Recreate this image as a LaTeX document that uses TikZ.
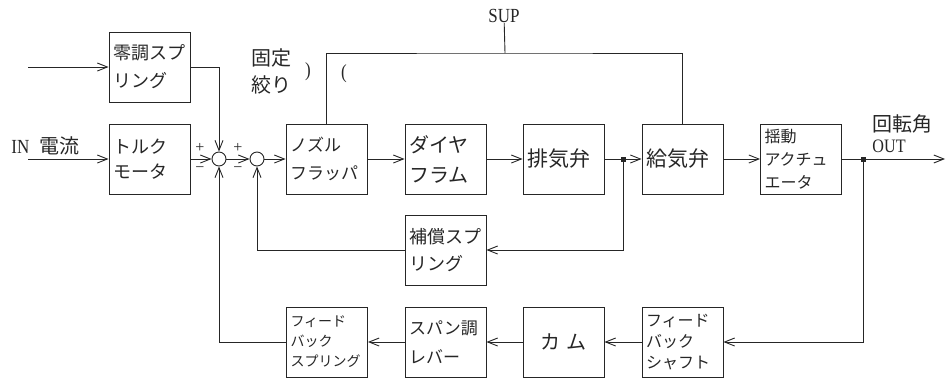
\documentclass[tikz,border=0pt]{standalone}
\usepackage{fontspec}
\setmainfont{Liberation Serif}
\newfontfamily\jp{Noto Sans CJK JP}
\newfontfamily\lat[FakeStretch=0.85]{Liberation Serif}
\usetikzlibrary{arrows.meta}
\begin{document}
\begin{tikzpicture}[x=1pt,y=-1pt,
  line width=0.9pt, color=black!85,
  >={Straight Barb[length=10pt,width=8pt]},
  box/.style 2 args={draw, rectangle, minimum width=81pt, minimum height=70pt,
    inner xsep=4pt, inner ysep=0pt, align=left, text width=73pt,
    font=\jp\fontsize{#1}{#2}\selectfont},
  sum/.style={draw, circle, minimum size=14pt, inner sep=0pt},
  dot/.style={fill, rectangle, minimum size=5pt, inner sep=0pt},
  lbl/.style={inner sep=0pt},
]
\useasboundingbox (0,0) rectangle (947,378);

% blocks
\node[box={18}{28}] (zr) at (149.5,67) {零調スプ\\リング};
\node[box={18}{25}] (tm) at (149.5,159) {トルク\\モータ};
\node[sum] (c1) at (219,159) {};
\node[sum] (c2) at (257,159) {};
\node[box={17}{28}] (nf) at (326.5,159) {ノズル\\フラッパ};
\node[box={20}{30}] (dia) at (445.5,159) {ダイヤ\\フラム};
\node[box={21}{28}] (ex) at (563.5,159) {排気弁};
\node[box={21}{28}] (sv) at (682.5,159) {給気弁};
\node[box={16}{23}] (act) at (801,159) {揺動\\アクチュ\\エータ};
\node[box={18}{27}] (cs) at (445.5,250) {補償スプ\\リング};
\node[box={14}{20}] (fbs) at (327,342) {フィード\\バック\\スプリング};
\node[box={17}{29}] (span) at (445.5,342) {スパン調\\レバー};
\node[box={20}{28}, align=center] (cam) at (563.5,342) {カ\hspace{6pt}ム};
\node[box={16}{21}] (fsh) at (682.5,342) {フィード\\バック\\シャフト};

\node[dot] (j1) at (623,159) {};
\node[dot] (j2) at (863,159) {};
\coordinate (in1) at (28,67);
\coordinate (in2) at (28,159);
\coordinate (out) at (945,159);
\coordinate (t) at (505,53);

% labels
\node[lbl, font=\lat\fontsize{20}{22}\selectfont] (sup) at (504,16) {SUP};
\node[lbl, anchor=west, font=\lat\fontsize{20}{24}\selectfont] (inl) at (11,146) {IN\hspace{10pt}{\jp 電流}};
\node[lbl, anchor=west, font=\jp\fontsize{20}{24}\selectfont] (rot) at (872,124) {回転角};
\node[lbl, anchor=west, font=\lat\fontsize{19}{22}\selectfont] (outl) at (872,146) {OUT};
\node[lbl, anchor=west, align=left, font=\jp\fontsize{20}{27}\selectfont] (kotei) at (251,71) {固定\\絞り};
\node[lbl, font=\lat\fontsize{20}{24}\selectfont] (pr) at (308,72) {)};
\node[lbl, font=\lat\fontsize{20}{24}\selectfont] (pl) at (344,74) {(};
\node[lbl, font=\fontsize{16}{18}\selectfont] (p1) at (200,148) {+};
\node[lbl, font=\fontsize{16}{18}\selectfont] (m1) at (200,170) {−};
\node[lbl, font=\fontsize{16}{18}\selectfont] (p2) at (238,148) {+};
\node[lbl, font=\fontsize{16}{18}\selectfont] (m2) at (238,170) {−};

% connectors
\draw[->] (in1) -- (zr);
\draw[->] (in2) -- (tm);
\draw[->] (zr.east) -| (c1.north);
\draw[->] (tm) -- (c1);
\draw[->] (c1) -- (c2);
\draw[->] (c2) -- (nf);
\draw[->] (nf) -- (dia);
\draw[->] (dia) -- (ex);
\draw[->] (ex) -- (sv);
\draw[->] (sv) -- (act);
\draw[->] (act) -- (out);
\draw (sup) -- (t);
\draw (nf.north) |- (t) -| (sv.north);
\draw[->] (j1) |- (cs.east);
\draw[->] (cs.west) -| (c2.south);
\draw[->] (j2) |- (fsh.east);
\draw[->] (fsh) -- (cam);
\draw[->] (cam) -- (span);
\draw[->] (span) -- (fbs);
\draw[->] (fbs.west) -| (c1.south);
\end{tikzpicture}
\end{document}
